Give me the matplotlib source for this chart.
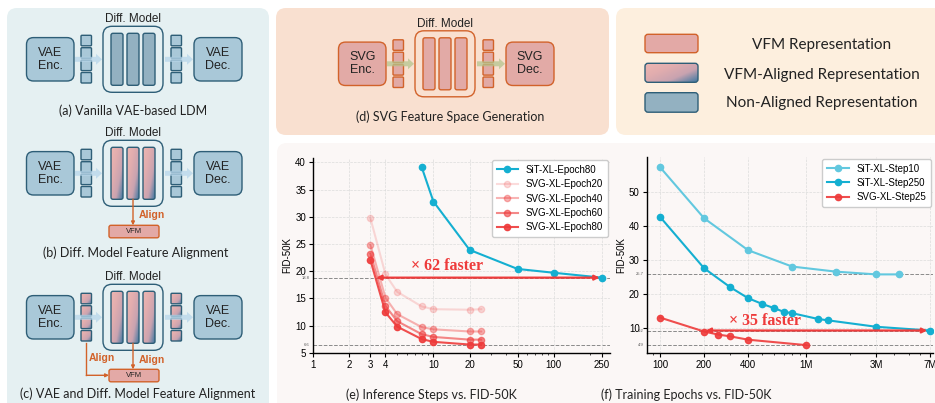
import numpy as np
import matplotlib
matplotlib.use("Agg")
import matplotlib.pyplot as plt
from matplotlib.patches import FancyBboxPatch, FancyArrow
from matplotlib.colors import LinearSegmentedColormap
import matplotlib.transforms as mtransforms

# ---- data: (e) inference steps vs FID ----
sit_steps = [8, 10, 20, 50, 100, 250]
sit_e80 = [39.1, 32.8, 23.9, 20.4, 19.7, 18.8]
svg_steps = [3, 4, 5, 8, 10, 20, 25]
svg_e20 = [29.7, 19.4, 16.2, 13.5, 13.0, 12.9, 13.0]
svg_e40 = [24.8, 15.1, 12.1, 9.7, 9.3, 8.9, 8.9]
svg_e60 = [23.2, 13.6, 10.8, 8.4, 7.9, 7.4, 7.4]
svg_e80 = [22.0, 12.4, 9.8, 7.5, 7.0, 6.5, 6.5]
e_ref = [18.8, 6.5]
e_ref_lbl = ["18.8", "6.6"]
e_xticks = [1, 2, 3, 4, 10, 20, 50, 100, 250]

# ---- data: (f) training epochs vs FID ----
step10_x = [100, 200, 400, 800, 1600, 3000, 4300]
step10_y = [57.2, 42.2, 32.8, 28.0, 26.5, 25.7, 25.7]
step250_x = [100, 200, 300, 400, 500, 600, 700, 800, 1200, 1400, 3000, 7000]
step250_y = [42.6, 27.5, 22.0, 18.7, 17.0, 15.8, 14.7, 14.3, 12.6, 12.2, 10.3, 9.2]
svg25_x = [100, 200, 250, 300, 400, 1000]
svg25_y = [13.0, 8.9, 8.0, 7.5, 6.5, 4.9]
f_ref = [25.7, 9.2, 4.9]
f_xticks = [100, 200, 400, 1000, 3000, 7000]
f_xlabels = ["100", "200", "400", "1M", "3M", "7M"]

legend_items = ["VFM Representation", "VFM-Aligned Representation", "Non-Aligned Representation"]

W, H = 935, 403
fig = plt.figure(figsize=(W / 100, H / 100), dpi=100)
fig.patch.set_facecolor("white")

# full-figure axes in pixel coordinates for the diagrams
bg = fig.add_axes([0, 0, 1, 1])
bg.set_xlim(0, W)
bg.set_ylim(H, 0)
bg.axis("off")

BLUE_FC = "#A9C8D8"
BLUE_BAR = "#93B1C1"
TEAL = "#2E5E77"
PINK = "#E3A9A6"
ORANGE = "#D2622A"
TXT = "#222222"
grad_cmap = LinearSegmentedColormap.from_list("g", ["#EDB6B2", "#E2ADAE", "#C9A3B0", "#3F78A2"])
u = np.linspace(0, 1, 60)
U, V = np.meshgrid(u, u)
grad = (U * 0.55 + V * 0.45)


def rbox(x, y, w, h, fc, ec, r=5, lw=1.0, z=2):
    p = FancyBboxPatch((x, y), w, h, boxstyle=f"round,pad=0,rounding_size={r}",
                       fc=fc, ec=ec, lw=lw, zorder=z)
    bg.add_patch(p)
    return p


def gbox(x, y, w, h, ec, r=2, lw=1.0, z=3):
    p = rbox(x, y, w, h, "none", ec, r, lw, z + 0.1)
    im = bg.imshow(grad, cmap=grad_cmap, extent=[x, x + w, y + h, y], origin="upper",
                   zorder=z, aspect="auto", interpolation="bilinear")
    im.set_clip_path(p)


def pipeline(cx, cy, enc, dec, box_fc, ec, bar, tok, arrow_c):
    rbox(cx - 106.5, cy - 21.7, 47.5, 43.4, box_fc, ec, r=7)
    rbox(cx + 61, cy - 21.7, 48, 43.4, box_fc, ec, r=7)
    bg.text(cx - 82.7, cy, enc, ha="center", va="center", fontsize=9,
            family="Liberation Sans", color=TXT, zorder=5, linespacing=1.1)
    bg.text(cx + 85, cy, dec, ha="center", va="center", fontsize=9,
            family="Liberation Sans", color=TXT, zorder=5, linespacing=1.1)
    rbox(cx - 30, cy - 33, 60, 66, "none", ec, r=9)
    bg.text(cx, cy - 40, "Diff. Model", ha="center", va="center", fontsize=8.5,
            family="Liberation Sans", color=TXT)
    for bx in [cx - 22, cx - 6, cx + 10]:
        if bar == "grad":
            gbox(bx, cy - 26, 12, 52, ec)
        else:
            rbox(bx, cy - 26, 12, 52, bar, ec, r=2)
    for tx, kind in [(cx - 52, tok[0]), (cx + 38, tok[1])]:
        for i in range(4):
            ty = cy - 24 + i * 12.4
            if kind == "grad":
                gbox(tx, ty, 10.5, 10.5, ec, r=1)
            else:
                rbox(tx, ty, 10.5, 10.5, kind, ec, r=1)
    for x0, x1 in [(cx - 58, cx - 31), (cx + 32, cx + 60)]:
        bg.add_patch(FancyArrow(x0, cy, x1 - x0, 0, width=5, head_width=11, head_length=6,
                                length_includes_head=True, fc=arrow_c, ec="none",
                                alpha=0.75, zorder=4))


def vfm(cx, cy):
    rbox(cx - 24, cy + 52, 50, 12.5, PINK, ORANGE, r=2)
    bg.text(cx + 1, cy + 58.5, "VFM", ha="center", va="center", fontsize=5.5,
            family="Liberation Sans", color=TXT, zorder=5)


def align_label(x, y):
    bg.text(x, y, "Align", ha="left", va="center", fontsize=7.5, fontweight="bold",
            family="Liberation Sans", color=ORANGE, zorder=5)


# panels
rbox(7, 8, 262, 420, "#E5F0F2", "none", r=10, z=0)
rbox(276, 8, 333, 127, "#F9E0D0", "none", r=10, z=0)
rbox(616, 8, 340, 127, "#FDEFDE", "none", r=10, z=0)
rbox(277, 143, 680, 300, "#FBF7F6", "none", r=10, z=0)

cap = dict(ha="center", va="center", fontsize=9, family="Lato", color=TXT)

# (a)
cx = 133
pipeline(cx, 59.3, "VAE\nEnc.", "VAE\nDec.", BLUE_FC, TEAL, BLUE_BAR, (BLUE_FC, BLUE_FC), "#B7D6EA")
bg.text(cx, 111, "(a) Vanilla VAE-based LDM", **cap)

# (b)
cy = 173.3
pipeline(cx, cy, "VAE\nEnc.", "VAE\nDec.", BLUE_FC, TEAL, "grad", (BLUE_FC, BLUE_FC), "#B7D6EA")
vfm(cx, cy)
bg.annotate("", xy=(cx, cy + 52), xytext=(cx, cy + 26),
            arrowprops=dict(arrowstyle="-|>", color=ORANGE, lw=1.0, mutation_scale=5,
                            shrinkA=0, shrinkB=0), zorder=6)
align_label(cx + 6, cy + 42)
bg.text(cx + 3, 252.3, "(b) Diff. Model Feature Alignment", **cap)

# (c)
cy = 317.3
pipeline(cx, cy, "VAE\nEnc.", "VAE\nDec.", BLUE_FC, TEAL, "grad", ("grad", "grad"), "#B7D6EA")
vfm(cx, cy)
bg.annotate("", xy=(cx, cy + 52), xytext=(cx, cy + 26),
            arrowprops=dict(arrowstyle="-|>", color=ORANGE, lw=1.0, mutation_scale=5,
                            shrinkA=0, shrinkB=0), zorder=6)
bg.plot([cx - 46.7, cx - 46.7], [cy + 25.5, cy + 58], color=ORANGE, lw=1.0, zorder=6)
bg.annotate("", xy=(cx - 24, cy + 58), xytext=(cx - 46.7, cy + 58),
            arrowprops=dict(arrowstyle="-|>", color=ORANGE, lw=1.0, mutation_scale=5,
                            shrinkA=0, shrinkB=0), zorder=6)
align_label(cx - 44, cy + 41)
align_label(cx + 6, cy + 43)
bg.text(cx + 5, 393.3, "(c) VAE and Diff. Model Feature Alignment", **cap)

# (d)
pipeline(445, 63.8, "SVG\nEnc.", "SVG\nDec.", "#E2AAA6", ORANGE, "#E2AAA6",
         ("#E2AAA6", "#E2AAA6"), "#B5C48E")
bg.text(450, 116.7, "(d) SVG Feature Space Generation", **cap)

# legend panel
sw_y = [34.3, 63.3, 92.7]
text_y = [45, 75, 103.3]
rbox(645, sw_y[0], 53, 18.4, PINK, ORANGE, r=3)
gbox(645, sw_y[1], 53, 19, TEAL, r=3)
rbox(645, sw_y[2], 53, 19.5, BLUE_BAR, TEAL, r=3)
for t, ty in zip(legend_items, text_y):
    bg.text(822, ty, t, ha="center", va="center", fontsize=11, family="Lato", color=TXT)

bg.set_xlim(0, W)
bg.set_ylim(H, 0)

bg.text(431.7, 395, "(e) Inference Steps vs. FID-50K", **cap)
bg.text(686.7, 395, "(f) Training Epochs vs. FID-50K", **cap)

RED = "#EE3B3B"
CYAN = "#14AFD1"
LCYAN = "#62C8DF"
plt.rcParams["font.family"] = ["Liberation Sans", "DejaVu Sans"]


def style_axes(ax):
    ax.set_facecolor("none")
    for s in ["top", "right"]:
        ax.spines[s].set_visible(False)
    ax.spines["left"].set_linewidth(1.0)
    ax.spines["bottom"].set_linewidth(1.0)
    ax.grid(True, which="major", ls="--", lw=0.5, color="#DCDCDC")
    ax.tick_params(labelsize=7, length=3, width=0.8, pad=2)
    ax.tick_params(which="minor", length=1.5, width=0.5)
    ax.set_ylabel("FID-50K", fontsize=7, labelpad=2)


def ref_line(ax, y, lbl):
    ax.axhline(y, ls="--", lw=0.7, color="#8A8A8A", zorder=1)
    trans = mtransforms.blended_transform_factory(ax.transAxes, ax.transData)
    ax.text(-0.012, y, lbl, transform=trans, ha="right", va="center", fontsize=3,
            color="#555555")


# (e)
ax1 = fig.add_axes([313 / W, 1 - 352.7 / H, (610 - 313) / W, (352.7 - 158) / H])
style_axes(ax1)
ax1.set_xscale("log")
kw = dict(marker="o", markersize=4.5, lw=1.5)
ax1.plot(sit_steps, sit_e80, color=CYAN, label="SiT-XL-Epoch80", zorder=4, **kw)
ax1.plot(svg_steps, svg_e20, color=RED, alpha=0.18, label="SVG-XL-Epoch20", zorder=3, **kw)
ax1.plot(svg_steps, svg_e40, color=RED, alpha=0.38, label="SVG-XL-Epoch40", zorder=3, **kw)
ax1.plot(svg_steps, svg_e60, color=RED, alpha=0.6, label="SVG-XL-Epoch60", zorder=3, **kw)
ax1.plot(svg_steps, svg_e80, color=RED, alpha=0.9, label="SVG-XL-Epoch80", zorder=3, **kw)
for y, l in zip(e_ref, e_ref_lbl):
    ref_line(ax1, y, l)
ax1.set_xlim(1, 293)
ax1.set_ylim(5, 40.8)
ax1.set_xticks(e_xticks)
ax1.set_xticklabels([str(v) for v in e_xticks])
ax1.set_yticks([5, 10, 15, 20, 25, 30, 35, 40])
ax1.annotate("", xy=(3.35, e_ref[0]), xytext=(240, e_ref[0]),
             arrowprops=dict(arrowstyle="<|-|>", color=RED, lw=1.6, mutation_scale=7,
                             shrinkA=0, shrinkB=0), zorder=5)
ax1.text(12.9, 21.0, "× 62 faster", ha="center", va="center", fontsize=11.5,
         fontweight="bold", family="Liberation Serif", color=RED)
ax1.legend(loc="upper right", fontsize=7, frameon=True, framealpha=1,
           edgecolor="#CCCCCC", borderpad=0.5, labelspacing=0.45, handlelength=2.2,
           borderaxespad=0.2)

# (f)
ax2 = fig.add_axes([646.7 / W, 1 - 353.3 / H, (933 - 646.7) / W, (353.3 - 156.7) / H])
style_axes(ax2)
ax2.set_xscale("log")
ax2.plot(step10_x, step10_y, color=LCYAN, label="SiT-XL-Step10", zorder=3, **kw)
ax2.plot(step250_x, step250_y, color=CYAN, label="SiT-XL-Step250", zorder=4, **kw)
ax2.plot(svg25_x, svg25_y, color=RED, alpha=0.9, label="SVG-XL-Step25", zorder=3, **kw)
for y in f_ref:
    ref_line(ax2, y, str(y))
ax2.set_xlim(81, 7345)
ax2.set_ylim(2.5, 60.3)
ax2.set_xticks(f_xticks)
ax2.set_xticklabels(f_xlabels)
ax2.set_yticks([10, 20, 30, 40, 50])
ax2.annotate("", xy=(205, f_ref[1]), xytext=(6700, f_ref[1]),
             arrowprops=dict(arrowstyle="<|-|>", color=RED, lw=1.6, mutation_scale=7,
                             shrinkA=0, shrinkB=0), zorder=5)
ax2.text(522, 12.0, "× 35 faster", ha="center", va="center", fontsize=11.5,
         fontweight="bold", family="Liberation Serif", color=RED)
ax2.legend(loc="upper right", fontsize=7, frameon=True, framealpha=1,
           edgecolor="#CCCCCC", borderpad=0.5, labelspacing=0.45, handlelength=2.2,
           borderaxespad=0.2)

fig.savefig("out.png", dpi=100)
